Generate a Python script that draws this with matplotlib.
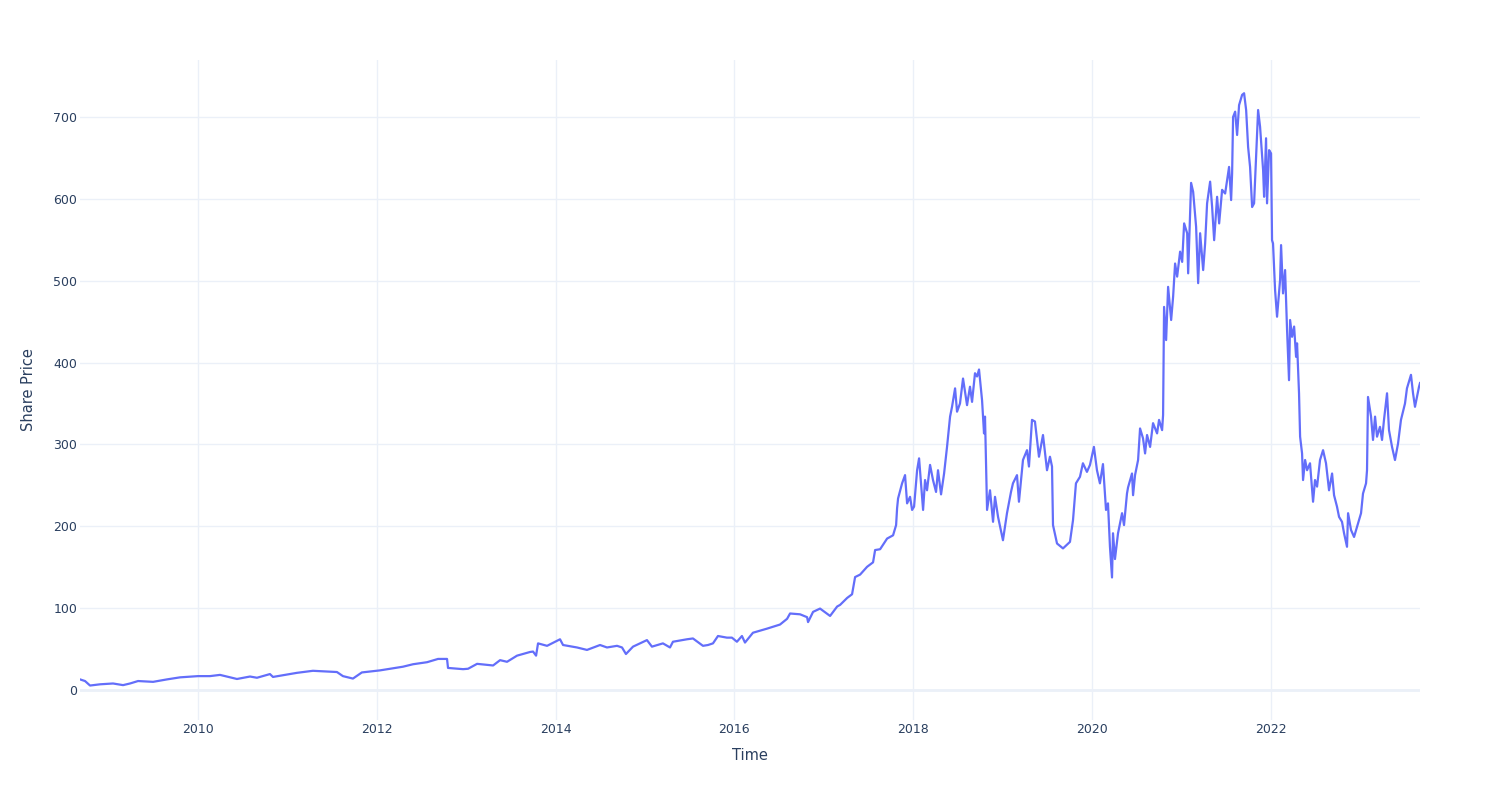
import matplotlib
matplotlib.use("Agg")
import matplotlib.pyplot as plt
import matplotlib.dates as mdates
import pandas as pd

# Decimal-year positions and share prices
years = [
    2008.680, 2008.736, 2008.792, 2008.904, 2009.049, 2009.161, 2009.239, 2009.329, 2009.497, 2009.653,
    2009.799, 2010.000, 2010.134, 2010.246, 2010.436, 2010.582, 2010.660, 2010.805, 2010.839, 2010.996,
    2011.107, 2011.286, 2011.555, 2011.622, 2011.734, 2011.834, 2012.036, 2012.293, 2012.405, 2012.562,
    2012.685, 2012.785, 2012.796, 2012.964, 2013.020, 2013.121, 2013.300, 2013.378, 2013.456, 2013.568,
    2013.714, 2013.747, 2013.781, 2013.803, 2013.904, 2014.049, 2014.083, 2014.239, 2014.351, 2014.497,
    2014.575, 2014.687, 2014.743, 2014.787, 2014.866, 2015.022, 2015.078, 2015.201, 2015.280, 2015.313,
    2015.470, 2015.537, 2015.649, 2015.705, 2015.761, 2015.817, 2015.917, 2015.973, 2016.029, 2016.085,
    2016.119, 2016.208, 2016.365, 2016.510, 2016.589, 2016.622, 2016.734, 2016.812, 2016.823, 2016.879,
    2016.957, 2017.069, 2017.148, 2017.181, 2017.260, 2017.315, 2017.349, 2017.405, 2017.483, 2017.550,
    2017.573, 2017.629, 2017.707, 2017.774, 2017.808, 2017.819, 2017.830, 2017.875, 2017.908, 2017.931,
    2017.964, 2017.987, 2018.009, 2018.043, 2018.065, 2018.110, 2018.132, 2018.154, 2018.188, 2018.221,
    2018.255, 2018.277, 2018.311, 2018.345, 2018.378, 2018.412, 2018.434, 2018.468, 2018.490, 2018.523,
    2018.557, 2018.602, 2018.635, 2018.658, 2018.691, 2018.714, 2018.736, 2018.770, 2018.792, 2018.803,
    2018.826, 2018.859, 2018.893, 2018.915, 2018.949, 2019.004, 2019.049, 2019.094, 2019.116, 2019.161,
    2019.183, 2019.228, 2019.273, 2019.295, 2019.329, 2019.362, 2019.407, 2019.452, 2019.497, 2019.530,
    2019.553, 2019.564, 2019.609, 2019.676, 2019.754, 2019.788, 2019.821, 2019.866, 2019.899, 2019.944,
    2019.978, 2020.022, 2020.056, 2020.089, 2020.123, 2020.157, 2020.179, 2020.201, 2020.224, 2020.235,
    2020.257, 2020.291, 2020.336, 2020.358, 2020.391, 2020.403, 2020.447, 2020.459, 2020.481, 2020.515,
    2020.537, 2020.570, 2020.593, 2020.615, 2020.649, 2020.682, 2020.727, 2020.749, 2020.783, 2020.794,
    2020.805, 2020.828, 2020.850, 2020.884, 2020.906, 2020.928, 2020.951, 2020.984, 2021.007, 2021.029,
    2021.063, 2021.074, 2021.107, 2021.130, 2021.163, 2021.186, 2021.208, 2021.242, 2021.264, 2021.286,
    2021.320, 2021.342, 2021.365, 2021.398, 2021.421, 2021.454, 2021.488, 2021.510, 2021.532, 2021.555,
    2021.566, 2021.577, 2021.600, 2021.622, 2021.644, 2021.678, 2021.700, 2021.723, 2021.745, 2021.767,
    2021.790, 2021.812, 2021.834, 2021.857, 2021.879, 2021.913, 2021.924, 2021.946, 2021.957, 2021.980,
    2022.002, 2022.013, 2022.024, 2022.047, 2022.069, 2022.103, 2022.114, 2022.136, 2022.159, 2022.181,
    2022.203, 2022.215, 2022.237, 2022.260, 2022.282, 2022.293, 2022.315, 2022.327, 2022.349, 2022.360,
    2022.383, 2022.405, 2022.438, 2022.472, 2022.494, 2022.517, 2022.550, 2022.584, 2022.617, 2022.651,
    2022.685, 2022.707, 2022.740, 2022.763, 2022.796, 2022.819, 2022.852, 2022.864, 2022.897, 2022.931,
    2022.975, 2023.009, 2023.031, 2023.065, 2023.076, 2023.087, 2023.121, 2023.143, 2023.166, 2023.188,
    2023.221, 2023.244, 2023.266, 2023.300, 2023.322, 2023.356, 2023.389, 2023.423, 2023.456, 2023.501,
    2023.523, 2023.568, 2023.591, 2023.613, 2023.635, 2023.658, 2023.669,
]
prices = [
    13, 11, 5.5, 7, 8, 6, 8, 11, 10, 13,
    15.5, 17, 17, 18.5, 13.5, 16.5, 15, 19.5, 16, 19,
    21, 23.5, 22, 17, 14, 21.5, 24, 28.5, 31.5, 34,
    38, 38, 27, 25.5, 26, 32, 30, 36.5, 34.5, 42,
    46.5, 47, 42, 57, 54, 62, 55, 52, 49, 55,
    52, 54, 52, 44, 53, 61, 53, 57, 52, 59,
    62, 63, 54, 55, 57, 66, 64, 64, 59, 66,
    58, 70, 75, 80, 87, 93.5, 92.5, 89, 83, 95.5,
    99.5, 90.5, 102, 104, 112.5, 117, 138, 141, 150.5, 156,
    171, 172, 185, 189, 201.5, 222, 234, 252.5, 262.5, 228,
    236, 220, 224, 268.5, 283, 220, 256.5, 244, 275, 256.5,
    242, 268.5, 239, 264.5, 297, 334, 346, 368.5, 340, 350,
    380.5, 348, 370.5, 352, 387, 383, 391.5, 354, 313.5, 334,
    220, 244, 205.5, 236, 211.5, 183, 216, 242, 252.5, 262.5,
    230, 281, 293, 273, 330, 328, 285, 311.5, 268.5, 285,
    273, 201.5, 179, 173, 181, 207.5, 252.5, 260.5, 277, 266.5,
    275, 297, 268.5, 252.5, 276, 220, 228, 175, 137.5, 191.5,
    160, 191.5, 216, 201.5, 240, 247.5, 264.5, 238, 262.5, 281,
    319.5, 307.5, 289, 311.5, 297, 326, 313.5, 330, 317.5, 336,
    468, 427.5, 492.5, 452, 480.5, 521, 505, 535.5, 523, 570,
    558, 509, 619.5, 608.5, 566, 497, 558, 513, 545.5, 594.5,
    621, 590.5, 549.5, 602.5, 570, 611, 606.5, 623, 639, 598.5,
    631, 700, 706.5, 678, 714.5, 727, 729, 708.5, 663.5, 639,
    590, 594.5, 651.5, 708.5, 688, 635, 602.5, 674, 594.5, 659.5,
    655.5, 549.5, 545.5, 488.5, 456, 501, 543.5, 484.5, 513, 440,
    378.5, 452, 431.5, 444, 407, 423.5, 362.5, 309.5, 289, 256.5,
    281, 268.5, 277, 230, 256.5, 248.5, 281, 293, 277, 244,
    264.5, 238, 224, 211.5, 205.5, 191.5, 175, 216, 195.5, 187,
    203.5, 216, 240, 252.5, 268.5, 358, 334, 305.5, 334, 309.5,
    321.5, 305.5, 330, 362.5, 317.5, 297, 281, 301, 330, 350,
    368.5, 385, 362.5, 346, 358, 370.5, 375,
]
x_title = "Time"
y_title = "Share Price"
y_ticks = [0, 100, 200, 300, 400, 500, 600, 700]


def to_date(y):
    yr = int(y)
    start = pd.Timestamp(year=yr, month=1, day=1)
    end = pd.Timestamp(year=yr + 1, month=1, day=1)
    return start + (end - start) * (y - yr)


dates = [to_date(y) for y in years]

TEXT = "#2a3f5f"
GRID = "#EBF0F8"
LINE = "#636EFA"
plt.rcParams["font.family"] = ["DejaVu Sans"]

fig = plt.figure(figsize=(15, 8), dpi=100)
ax = fig.add_axes([80 / 1500, 80 / 800, 1340 / 1500, 660 / 800])

ax.plot(dates, prices, color=LINE, linewidth=1.6, zorder=3)

ax.set_xlim(dates[0], dates[-1])
ax.set_ylim(-36.6, 769.6)
ax.set_yticks(y_ticks)
ax.xaxis.set_major_locator(mdates.YearLocator(base=2))
ax.xaxis.set_major_formatter(mdates.DateFormatter("%Y"))

ax.grid(True, color=GRID, linewidth=1, zorder=0)
ax.axhline(0, color=GRID, linewidth=2, zorder=1)
for s in ax.spines.values():
    s.set_visible(False)
ax.tick_params(axis="both", length=0, colors=TEXT, labelsize=9)
ax.tick_params(axis="x", pad=2)
ax.tick_params(axis="y", pad=2)
ax.set_axisbelow(True)

ax.set_xlabel(x_title, fontsize=10.5, color=TEXT, labelpad=9)
ax.set_ylabel(y_title, fontsize=10.5, color=TEXT, labelpad=12.5)

fig.savefig("out.png", dpi=100, facecolor="white")
